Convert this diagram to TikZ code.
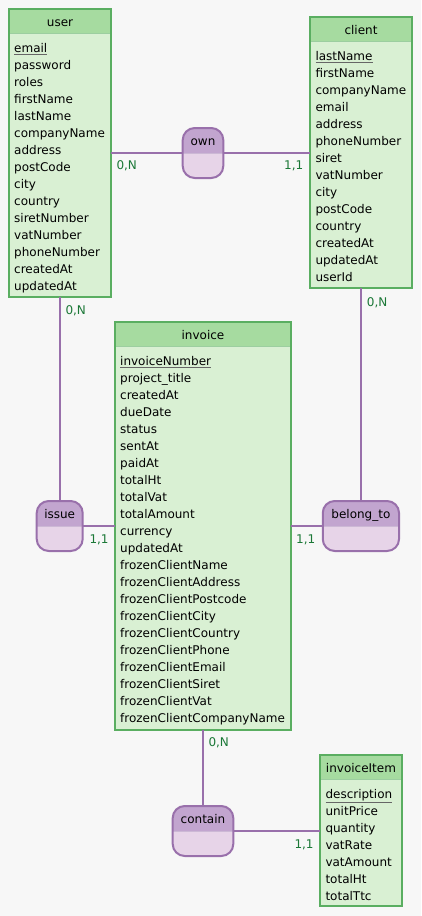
\documentclass[tikz,border=0pt]{standalone}
\usepackage{fontspec}
\setmainfont{DejaVu Sans}
\usepackage{xcolor}
\usepackage{tikz}

\definecolor{enthead}{HTML}{A6DBA0}
\definecolor{entbody}{HTML}{D9F0D3}
\definecolor{entline}{HTML}{5AAE61}
\definecolor{assohead}{HTML}{C2A5CF}
\definecolor{assobody}{HTML}{E7D4E8}
\definecolor{assoline}{HTML}{9970AB}
\definecolor{cardtext}{HTML}{1B7837}
\definecolor{canvas}{HTML}{F7F7F7}

\newcommand{\pkey}[1]{{\color{black!60}\underline{\color{black}#1}}}

\begin{document}
\begin{tikzpicture}[
    x=1pt, y=-1pt,
    ent/.style={rectangle, fill=entbody, inner sep=0pt, outer sep=0pt, anchor=north west},
    head/.style={rectangle, fill=enthead, inner sep=0pt, outer sep=0pt, minimum height=24pt, text height=11pt, text depth=0pt, anchor=north, font=\fontsize{12}{14}\selectfont},
    attr/.style={inner sep=0pt, anchor=base west, font=\fontsize{12}{14}\selectfont},
    border/.style={draw=entline, line width=2pt},
    asso/.style={rectangle, rounded corners=12pt, fill=assobody, inner sep=0pt, outer sep=0pt, minimum height=50pt},
    assotext/.style={inner sep=0pt, anchor=base, font=\fontsize{12}{14}\selectfont},
    link/.style={draw=assoline, line width=2pt},
    card/.style={text=cardtext, inner sep=0pt, font=\fontsize{12}{14}\selectfont}
]
    \fill[canvas] (0,0) rectangle (421,916);
    \useasboundingbox (0,0) rectangle (421,916);

    % entities
    \node[ent, minimum width=102pt, minimum height=287.4pt] (user) at (9,9.3) {};
    \node[head, minimum width=102pt] (user-h) at (user.north) {user};
    \node[attr] (user-0) at (14,52.3) {\pkey{email}};
    \foreach \t [count=\i] in {password,roles,firstName,lastName,companyName,address,postCode,city,country,siretNumber,vatNumber,phoneNumber,createdAt,updatedAt}
        \node[attr] (user-\i) at (14,52.3+17*\i) {\t};

    \node[ent, minimum width=102pt, minimum height=271pt] (client) at (310,17.3) {};
    \node[head, minimum width=102pt] (client-h) at (client.north) {client};
    \node[attr] (client-0) at (315.3,60.7) {\pkey{lastName}};
    \foreach \t [count=\i] in {firstName,companyName,email,address,phoneNumber,siret,vatNumber,city,postCode,country,createdAt,updatedAt,userId}
        \node[attr] (client-\i) at (315.3,60.7+17*\i) {\t};

    \node[ent, minimum width=176pt, minimum height=407.4pt] (invoice) at (115,322.3) {};
    \node[head, minimum width=176pt] (invoice-h) at (invoice.north) {invoice};
    \node[attr] (invoice-0) at (120,365.3) {\pkey{invoiceNumber}};
    \foreach \t [count=\i] in {project\_title,createdAt,dueDate,status,sentAt,paidAt,totalHt,totalVat,totalAmount,currency,updatedAt,frozenClientName,frozenClientAddress,frozenClientPostcode,frozenClientCity,frozenClientCountry,frozenClientPhone,frozenClientEmail,frozenClientSiret,frozenClientVat,frozenClientCompanyName}
        \node[attr] (invoice-\i) at (120,365.3+17*\i) {\t};

    \node[ent, minimum width=82pt, minimum height=151pt] (invoiceItem) at (320,755) {};
    \node[head, minimum width=82pt] (invoiceItem-h) at (invoiceItem.north) {invoiceItem};
    \node[attr] (invoiceItem-0) at (325.3,798.3) {\pkey{description}};
    \foreach \t [count=\i] in {unitPrice,quantity,vatRate,vatAmount,totalHt,totalTtc}
        \node[attr] (invoiceItem-\i) at (325.3,798.3+17*\i) {\t};

    \foreach \e in {user,client,invoice,invoiceItem} {
        \draw[entline!60, line width=1pt] (\e-h.south west) -- (\e-h.south east);
        \draw[border] (\e.north west) rectangle (\e.south east);
    }

    % associations
    \node[asso, minimum width=40.6pt] (own) at (203,153) {};
    \node[asso, minimum width=46pt] (issue) at (59.7,526) {};
    \node[asso, minimum width=76.3pt] (belongto) at (360.9,526) {};
    \node[asso, minimum width=60.6pt] (contain) at (203,831) {};

    \foreach \a in {own,issue,belongto,contain} {
        \begin{scope}
            \clip (\a.north west) rectangle (\a.east);
            \fill[assohead, rounded corners=12pt] (\a.north west) rectangle (\a.south east);
        \end{scope}
        \draw[assoline!50, line width=1pt] (\a.west) -- (\a.east);
        \draw[link, rounded corners=12pt] (\a.north west) rectangle (\a.south east);
    }

    \node[assotext] (own-t) at (203,145.7) {own};
    \node[assotext] (issue-t) at (59.7,518.3) {issue};
    \node[assotext] (belongto-t) at (360.9,518.3) {belong\_to};
    \node[assotext] (contain-t) at (203,823.3) {contain};

    % links
    \draw[link] (user.east |- own) -- (own.west);
    \draw[link] (own.east) -- (own.east -| client.west);
    \draw[link] (user.south -| issue.north) -- (issue.north);
    \draw[link] (issue.east) -- (issue.east -| invoice.west);
    \draw[link] (client.south -| belongto.north) -- (belongto.north);
    \draw[link] (belongto.west) -- (belongto.west -| invoice.east);
    \draw[link] (invoice.south -| contain.north) -- (contain.north);
    \draw[link] (contain.east) -- (contain.east -| invoiceItem.west);

    % cardinalities
    \node[card, anchor=base west] (card-user-own) at (116.3,169.3) {0,N};
    \node[card, anchor=base east] (card-client-own) at (303.5,169.3) {1,1};
    \node[card, anchor=base west] (card-user-issue) at (65.3,314.7) {0,N};
    \node[card, anchor=base west] (card-invoice-issue) at (89.3,543.3) {1,1};
    \node[card, anchor=base west] (card-client-belongto) at (366.7,306) {0,N};
    \node[card, anchor=base west] (card-invoice-belongto) at (296,543.3) {1,1};
    \node[card, anchor=base west] (card-invoice-contain) at (208.3,746.7) {0,N};
    \node[card, anchor=base west] (card-item-contain) at (294.3,848.3) {1,1};
\end{tikzpicture}
\end{document}
